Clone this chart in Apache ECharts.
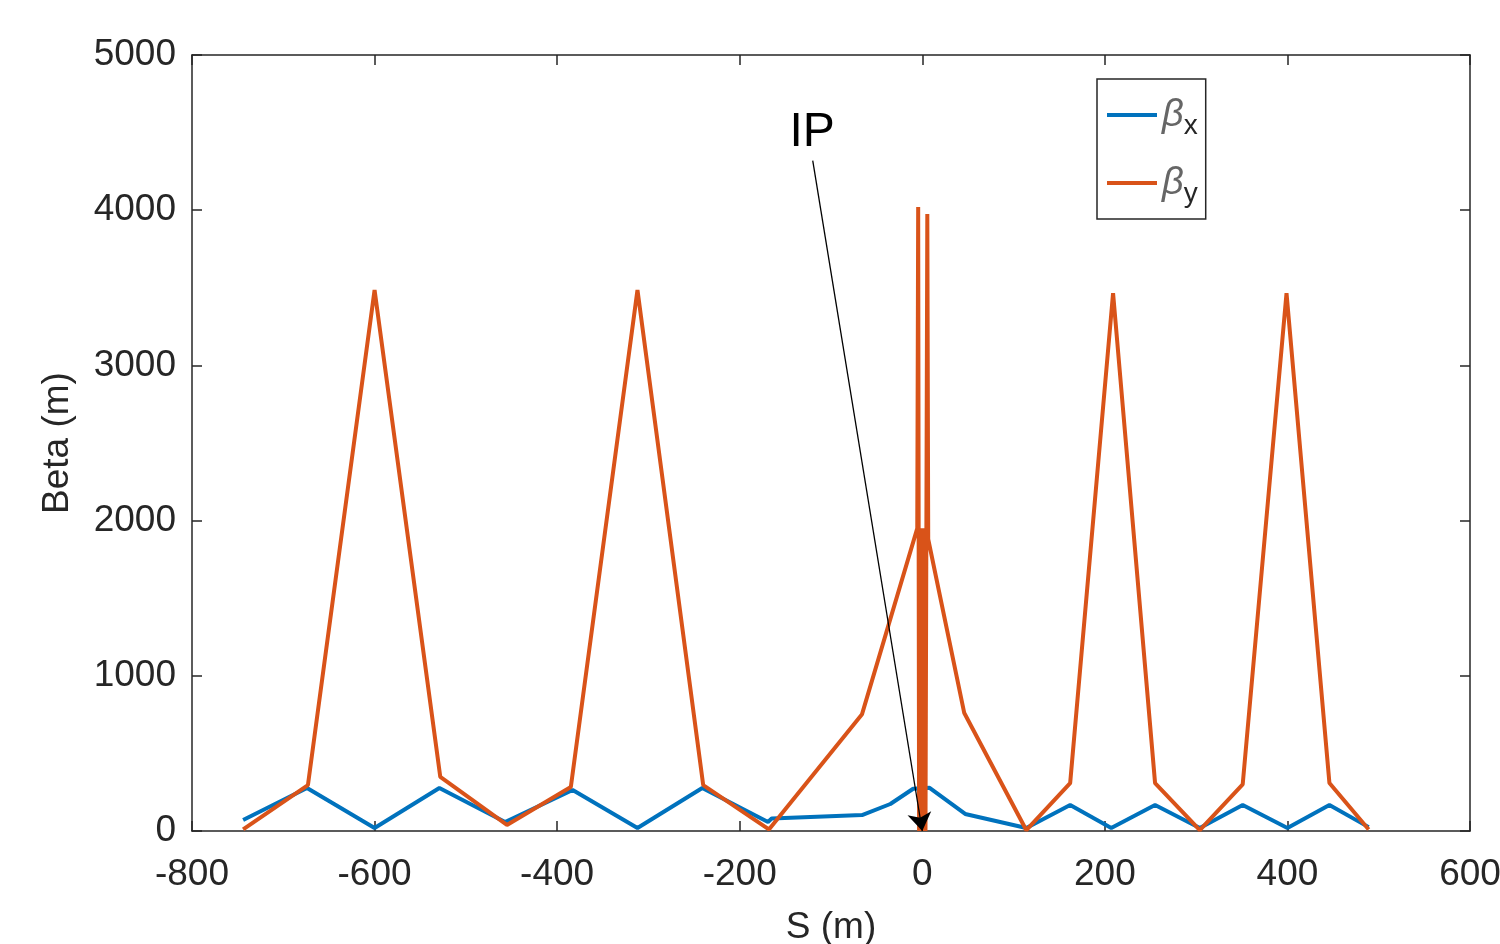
<!DOCTYPE html>
<html>
  <head>
    <meta charset="utf-8" />
    <title>Beta</title>
    <script src="https://cdn.jsdelivr.net/npm/echarts@6/dist/echarts.min.js"></script>
    <style>
      html, body { margin: 0; padding: 0; background: #fff; }
      #main { width: 1500px; height: 944px; }
    </style>
  </head>
  <body>
    <div id="main"></div>
    <script type="text/javascript">
      // beta_x
      const sX = [-744, -674, -600, -529, -457, -383, -312, -241, -169, -165, -66, -35, -10, 8, 47, 114, 162, 207, 255, 304, 351, 400, 446, 489]
      const betaX = [71, 277, 19, 277, 58, 264, 19, 277, 58, 80, 103, 174, 272, 278, 110, 19, 167, 19, 167, 19, 167, 19, 167, 25]

      // beta_y (dense wiggle around the IP)
      const sY = [-744, -673, -600, -528, -455, -385, -312, -240, -168, -66, -5.5, -4.5, -3.5, -2, 0, 2, 3.5, 5.5, 6.5, 46, 114, 162, 209, 255, 304, 351, 399, 446, 489]
      const betaY = [10, 296, 3486, 348, 39, 283, 3486, 296, 10, 753, 1950, 4020, 0, 1950, 0, 1950, 0, 3975, 1880, 760, 5, 309, 3466, 309, 5, 300, 3466, 309, 10]

      // IP arrow: from label point down to s = 0
      const ipFrom = [-120, 4320]
      const ipTo = [0, 0]

      const font = "'Liberation Sans', Arial, sans-serif"
      const axisColor = "#262626"

      const toPairs = (xs, ys) => xs.map((x, i) => [x, ys[i]])

      const myChart = echarts.init(document.getElementById("main"))

      const xBase = {
        type: "value",
        min: -800,
        max: 600,
        interval: 200,
        splitLine: { show: false },
        axisLine: { onZero: false, lineStyle: { color: axisColor, width: 1.5 } },
        axisTick: { inside: true, length: 10, lineStyle: { color: axisColor, width: 1.5 } }
      }
      const yBase = {
        type: "value",
        min: 0,
        max: 5000,
        interval: 1000,
        splitLine: { show: false },
        axisLine: { show: true, onZero: false, lineStyle: { color: axisColor, width: 1.5 } },
        axisTick: { show: true, inside: true, length: 10, lineStyle: { color: axisColor, width: 1.5 } }
      }

      const option = {
        animation: false,
        backgroundColor: "#fff",
        grid: { left: 192, right: 30, top: 55, bottom: 113, outerBoundsMode: "none" },
        legend: {
          orient: "vertical",
          left: 1097,
          top: 79,
          padding: [11, 8, 11, 10],
          itemGap: 18,
          itemWidth: 50,
          itemHeight: 4,
          icon: "rect",
          borderColor: axisColor,
          borderWidth: 1.5,
          formatter: function (name) {
            return name === "bx" ? "{b|β}{s|x}" : "{b|β}{s|y}"
          },
          textStyle: {
            rich: {
              b: { fontSize: 38, fontStyle: "italic", fontFamily: font, color: "#666", lineHeight: 44 },
              s: { fontSize: 28, fontFamily: font, color: "#262626", padding: [22, 0, 0, 0], lineHeight: 44 }
            }
          }
        },
        xAxis: [
          Object.assign({}, xBase, {
            position: "bottom",
            name: "S (m)",
            nameLocation: "middle",
            nameGap: 78,
            nameTextStyle: { fontSize: 37, fontFamily: font, color: axisColor },
            axisLabel: { fontSize: 37, fontFamily: font, color: axisColor, margin: 25 }
          }),
          Object.assign({}, xBase, { position: "top", axisLabel: { show: false } })
        ],
        yAxis: [
          Object.assign({}, yBase, {
            position: "left",
            name: "Beta (m)",
            nameLocation: "middle",
            nameGap: 116,
            nameTextStyle: { fontSize: 37, fontFamily: font, color: axisColor },
            axisLabel: {
              fontSize: 37,
              fontFamily: font,
              color: axisColor,
              margin: 16,
              formatter: function (v) { return String(v) }
            }
          }),
          Object.assign({}, yBase, { position: "right", axisLabel: { show: false } })
        ],
        series: [
          {
            name: "bx",
            type: "line",
            data: toPairs(sX, betaX),
            showSymbol: false,
            color: "#0072BD",
            lineStyle: { width: 4 }
          },
          {
            name: "by",
            type: "line",
            data: toPairs(sY, betaY),
            showSymbol: false,
            color: "#D95319",
            lineStyle: { width: 4 },
            markLine: {
              silent: true,
              symbol: ["none", "arrow"],
              symbolSize: 18,
              lineStyle: { color: "#000", width: 1.3, type: "solid" },
              label: {
                show: true,
                position: "start",
                formatter: "IP",
                fontSize: 48,
                fontFamily: font,
                color: "#000",
                distance: 4
              },
              data: [[{ coord: ipFrom }, { coord: ipTo }]]
            }
          }
        ]
      }

      myChart.setOption(option)
    </script>
  </body>
</html>
